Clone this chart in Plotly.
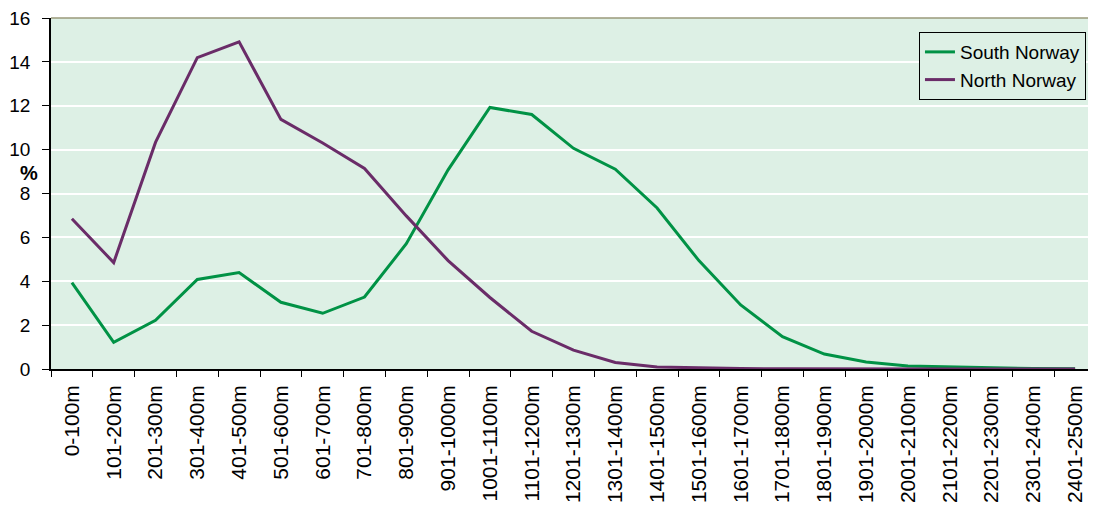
import plotly.graph_objects as go

faixas = ['0-100m', '101-200m', '201-300m', '301-400m', '401-500m', '501-600m',
          '601-700m', '701-800m', '801-900m', '901-1000m', '1001-1100m', '1101-1200m',
          '1201-1300m', '1301-1400m', '1401-1500m', '1501-1600m', '1601-1700m',
          '1701-1800m', '1801-1900m', '1901-2000m', '2001-2100m', '2101-2200m',
          '2201-2300m', '2301-2400m', '2401-2500m']

sul = [3.94, 1.22, 2.22, 4.08, 4.4, 3.04, 2.54, 3.28, 5.71, 9.08, 11.92, 11.6,
       10.06, 9.11, 7.34, 4.94, 2.92, 1.47, 0.68, 0.32, 0.14, 0.09, 0.04, 0.02, 0.01]

norte = [6.85, 4.85, 10.33, 14.19, 14.91, 11.38, 10.3, 9.14, 6.98, 4.94, 3.26, 1.72,
         0.86, 0.3, 0.09, 0.05, 0.02, 0.01, 0.0, 0.0, 0.0, 0.0, 0.0, 0.0, 0.0]

fonte = 'Liberation Sans, Arial, sans-serif'

fig = go.Figure()
fig.add_trace(go.Scatter(x=faixas, y=sul, mode='lines', name='South Norway',
                         line=dict(color='#009245', width=3)))
fig.add_trace(go.Scatter(x=faixas, y=norte, mode='lines', name='North Norway',
                         line=dict(color='#6a2c68', width=3)))

# a página tem 8px de margem no body, por isso as margens já descontam isso
fig.update_layout(
    width=1088, height=506,
    margin=dict(l=43, r=0, t=8, b=145),
    paper_bgcolor='white',
    plot_bgcolor='#ddf0e5',
    font=dict(family=fonte, color='black'),
    legend=dict(x=0.9904, y=0.96, xanchor='right', yanchor='top',
                bgcolor='#ddf0e5', bordercolor='black', borderwidth=1,
                font=dict(size=19), tracegroupgap=0, itemwidth=30),
    showlegend=True,
)

fig.update_xaxes(
    type='category', tickangle=-90, tickfont=dict(size=21),
    showline=True, linecolor='black', linewidth=1.5,
    ticks='outside', tickson='boundaries', ticklen=6, tickcolor='black',
    ticklabelstandoff=6,
    showgrid=False, range=[-0.5, len(faixas) - 0.5],
)
fig.update_yaxes(
    range=[0, 16], dtick=2, tickfont=dict(size=19),
    showline=True, linecolor='black', linewidth=1.5,
    ticks='outside', ticklen=7, tickcolor='black', ticklabelstandoff=8,
    ticklabeloverflow='allow',
    showgrid=True, gridcolor='white', gridwidth=1.5, zeroline=False,
)

# borda superior da área do gráfico
fig.add_shape(type='line', xref='paper', yref='paper', x0=0, x1=1, y0=1, y1=1,
              line=dict(color='#9a9a7a', width=1.5))

fig.add_annotation(text='<b>%</b>', xref='paper', yref='y', x=0, y=8.95,
                   xanchor='right', xshift=-11, showarrow=False,
                   font=dict(size=20, family=fonte))

fig.write_html('out.html')
